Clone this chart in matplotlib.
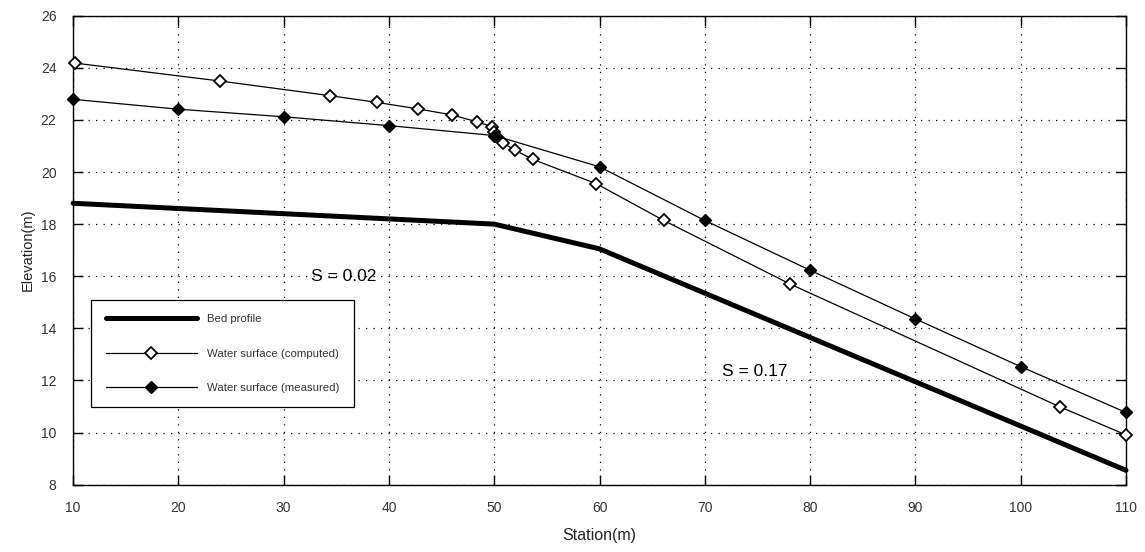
import numpy as np
import matplotlib
matplotlib.use("Agg")
import matplotlib.pyplot as plt

plt.rcParams['font.family'] = ['Liberation Sans', 'DejaVu Sans']

# bed profile (station m, elevation m)
bed_station = [10, 50, 60, 110]
bed_elev = [18.8, 18.0, 17.05, 8.55]

# computed water surface
comp_station = [10.2, 24, 34.4, 38.9, 42.8, 46.0, 48.4, 49.8, 50.0, 50.2,
                50.8, 52.0, 53.7, 59.7, 66.1, 78.1, 103.7, 110]
comp_elev = [24.18, 23.49, 22.93, 22.67, 22.42, 22.19, 21.92, 21.74, 21.55, 21.38,
             21.12, 20.83, 20.48, 19.55, 18.14, 15.70, 10.99, 9.91]

# measured water surface
meas_station = [10, 20, 30, 40, 50, 60, 70, 80, 90, 100, 110]
meas_elev = [22.79, 22.41, 22.12, 21.78, 21.40, 20.2, 18.14, 16.23, 14.36, 12.53, 10.77]

xticks = np.arange(10, 111, 10)
yticks = np.arange(8, 27, 2)

fig = plt.figure(figsize=(11.45, 5.52), dpi=100)
ax = fig.add_axes([0.0638, 0.122, 0.9196, 0.8496])

ax.plot(bed_station, bed_elev, color='black', lw=3.6, solid_capstyle='round',
        label='Bed profile', clip_on=False, zorder=3)
ax.plot(comp_station, comp_elev, color='black', lw=0.9, marker='D', ms=6,
        mfc='white', mec='black', mew=1.3, label='Water surface (computed)',
        clip_on=False, zorder=4)
ax.plot(meas_station, meas_elev, color='black', lw=0.9, marker='D', ms=6.5,
        mfc='black', mec='black', label='Water surface (measured)',
        clip_on=False, zorder=4)

ax.text(32.6, 16.0, 'S = 0.02', fontsize=12.5, va='center', ha='left')
ax.text(71.6, 12.35, 'S = 0.17', fontsize=12.5, va='center', ha='left')

ax.set_xlim(10, 110)
ax.set_ylim(8, 26)
ax.set_xticks(xticks)
ax.set_yticks(yticks)
ax.tick_params(direction='in', length=7, width=1, top=True, right=True,
               labelsize=10, labelcolor='#333333')
ax.tick_params(axis='x', pad=12)
ax.tick_params(axis='y', pad=12)
ax.grid(True, color='black', linestyle=(0, (1, 5)), linewidth=0.9)
for sp in ax.spines.values():
    sp.set_linewidth(1.0)

ax.set_xlabel('Station(m)', fontsize=11.5, color='#222222', labelpad=9)
ax.set_ylabel('Elevation(m)', fontsize=10.5, color='#222222', labelpad=4)

leg = ax.legend(loc='lower left', bbox_to_anchor=(0.0174, 0.165), borderaxespad=0,
                fontsize=8.2, handlelength=8.0, labelspacing=2.15, borderpad=1.25,
                handletextpad=0.9, fancybox=False, framealpha=1, edgecolor='black')
leg.get_frame().set_linewidth(0.9)
for t in leg.get_texts():
    t.set_color('#333333')

fig.savefig('out.png', dpi=100)
